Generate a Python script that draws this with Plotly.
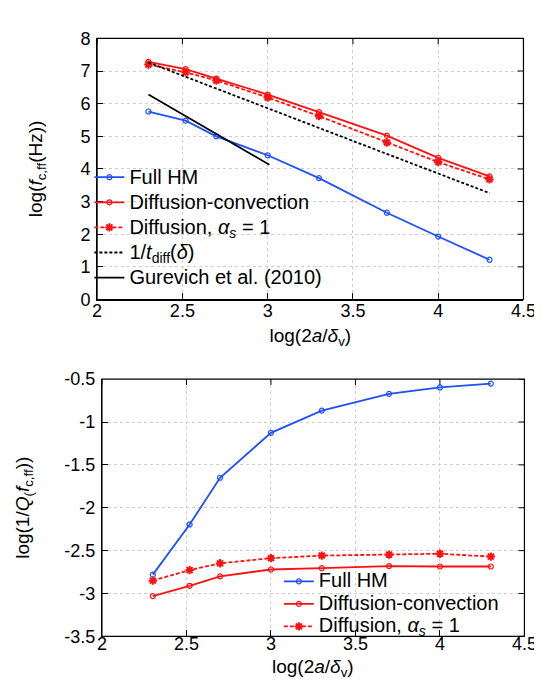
import plotly.graph_objects as go

# ---------------- data ----------------
x_vals = [2.301, 2.519, 2.699, 3.0, 3.301, 3.699, 4.0, 4.301]

# top panel: log(f_c,ff)
f_full_hm = [5.76, 5.48, 5.00, 4.42, 3.72, 2.66, 1.93, 1.22]
f_diff_conv = [7.28, 7.06, 6.77, 6.28, 5.74, 5.02, 4.34, 3.77]
f_diffusion = [7.20, 6.96, 6.71, 6.19, 5.62, 4.81, 4.21, 3.68]
f_tdiff = [7.26, 6.82, 6.46, 5.86, 5.26, 4.46, 3.86, 3.26]
gurevich_x = [2.301, 3.01]
gurevich_y = [6.28, 4.13]

# bottom panel: log(1/Q)
q_full_hm = [-2.78, -2.195, -1.65, -1.126, -0.867, -0.672, -0.597, -0.552]
q_diff_conv = [-3.03, -2.91, -2.80, -2.72, -2.705, -2.68, -2.685, -2.685]
q_diffusion = [-2.85, -2.727, -2.648, -2.588, -2.558, -2.547, -2.536, -2.57]

names_top = ["Full HM", "Diffusion-convection", "Diffusion, <i>α<sub>s</sub></i> = 1",
             "1/<i>t</i><sub>diff</sub>(<i>δ</i>)", "Gurevich et al. (2010)"]
names_bottom = ["Full HM", "Diffusion-convection", "Diffusion, <i>α<sub>s</sub></i> = 1"]

x_ticks = [2, 2.5, 3, 3.5, 4, 4.5]
x_ticklabels = ["2", "2.5", "3", "3.5", "4", "4.5"]
y1_ticks = [0, 1, 2, 3, 4, 5, 6, 7, 8]
y1_ticklabels = ["0", "1", "2", "3", "4", "5", "6", "7", "8"]
y2_ticks = [-3.5, -3, -2.5, -2, -1.5, -1, -0.5]
y2_ticklabels = ["-3.5", "-3", "-2.5", "-2", "-1.5", "-1", "-0.5"]

x_title = "log(2<i>a</i>/<i>δ</i><sub>v</sub>)"
y1_title = "log(<i>f</i><sub>c,ff</sub>(Hz))"
y2_title = "log(1/<i>Q</i><sub>(</sub><i>f</i><sub>c,ff</sub>))"

# ---------------- style ----------------
BLUE = "#1f4fff"
RED = "#ff1010"
FONT = "Liberation Sans"
LEG_TEXT = 20

W, H = 542, 684
def px_x(p):
    return p / W
def px_y(p):
    return 1 - p / H

def big(s):
    return '<span style="font-size:%dpx">%s</span>' % (LEG_TEXT, s)

fig = go.Figure()

def add(x, y, name, color, dash, symbol, xa, ya, legend, msize=5, mlw=1.2):
    fig.add_trace(go.Scatter(
        x=x, y=y, name=big(name), mode="lines+markers" if symbol else "lines",
        line=dict(color=color, width=1.8, dash=dash),
        marker=dict(symbol=symbol, size=msize, color=color,
                    line=dict(color=color, width=mlw)) if symbol else None,
        xaxis=xa, yaxis=ya, legend=legend,
    ))

add(x_vals, f_full_hm, names_top[0], BLUE, "solid", "circle-open", "x", "y", "legend")
add(x_vals, f_diff_conv, names_top[1], RED, "solid", "circle-open", "x", "y", "legend")
add(x_vals, f_diffusion, names_top[2], RED, "4px,2px", "asterisk-open", "x", "y", "legend", msize=7, mlw=2)
add(x_vals, f_tdiff, names_top[3], "black", "3px,2px", None, "x", "y", "legend")
add(gurevich_x, gurevich_y, names_top[4], "black", "solid", None, "x", "y", "legend")

add(x_vals, q_full_hm, names_bottom[0], BLUE, "solid", "circle-open", "x2", "y2", "legend2")
add(x_vals, q_diff_conv, names_bottom[1], RED, "solid", "circle-open", "x2", "y2", "legend2")
add(x_vals, q_diffusion, names_bottom[2], RED, "4px,2px", "asterisk-open", "x2", "y2", "legend2", msize=7, mlw=2)

TICKLEN = 6
axis_common = dict(
    showline=True, linecolor="black", linewidth=1.2, mirror=False,
    ticks="inside", ticklen=TICKLEN, tickcolor="black",
    showgrid=True, gridcolor="#cfcfcf", griddash="dot", gridwidth=1,
    zeroline=False, tickfont=dict(family=FONT, size=18, color="black"),
)

# plot areas (px)
T_X0, T_X1, T_Y0, T_Y1 = 87, 528, 21, 290
B_X0, B_X1, B_Y0, B_Y1 = 92, 529, 372, 637

# frame + mirrored ticks (top/right) drawn as shapes
shapes = []
for xa, ya, yt, (x0, x1, y0, y1) in [("x", "y", y1_ticks, (T_X0, T_X1, T_Y0, T_Y1)),
                                     ("x2", "y2", y2_ticks, (B_X0, B_X1, B_Y0, B_Y1))]:
    shapes.append(dict(type="rect", xref=xa + " domain", yref=ya + " domain",
                       x0=0, x1=1, y0=0, y1=1, layer="above",
                       line=dict(color="black", width=1.2)))
    for t in x_ticks:
        shapes.append(dict(type="line", xref=xa, yref=ya + " domain",
                           x0=t, x1=t, y0=1, y1=1 - TICKLEN / (y1 - y0), layer="above",
                           line=dict(color="black", width=1)))
    for t in yt:
        shapes.append(dict(type="line", xref=xa + " domain", yref=ya,
                           x0=1, x1=1 - TICKLEN / (x1 - x0), y0=t, y1=t, layer="above",
                           line=dict(color="black", width=1)))

# white patches behind the legends (hide grid, keep data)
shapes += [
    dict(type="rect", xref="paper", yref="paper", layer="between",
         x0=px_x(T_X0 + 1), x1=px_x(338), y0=px_y(T_Y1 - 1), y1=px_y(161),
         fillcolor="white", line=dict(width=0)),
    dict(type="rect", xref="paper", yref="paper", layer="between",
         x0=px_x(286), x1=px_x(B_X1 - 1), y0=px_y(B_Y1 - 1), y1=px_y(568),
         fillcolor="white", line=dict(width=0)),
]

fig.update_layout(
    width=W, height=H,
    margin=dict(l=0, r=0, t=0, b=0),
    paper_bgcolor="white", plot_bgcolor="white",
    font=dict(family=FONT, size=18, color="black"),
    xaxis=dict(domain=[px_x(T_X0), px_x(T_X1)], range=[2, 4.5], tickvals=x_ticks,
               ticktext=x_ticklabels, anchor="y", ticklabelstandoff=-5,
               title=dict(text=x_title, font=dict(size=19), standoff=8),
               **axis_common),
    yaxis=dict(domain=[px_y(T_Y1), px_y(T_Y0)], range=[0, 8], tickvals=y1_ticks,
               ticktext=y1_ticklabels, anchor="x", ticklabelstandoff=2,
               title=dict(text=y1_title, font=dict(size=19), standoff=32),
               **axis_common),
    xaxis2=dict(domain=[px_x(B_X0), px_x(B_X1)], range=[2, 4.5], tickvals=x_ticks,
                ticktext=x_ticklabels, anchor="y2", ticklabelstandoff=-9,
                **axis_common),
    yaxis2=dict(domain=[px_y(B_Y1), px_y(B_Y0)], range=[-3.5, -0.5], tickvals=y2_ticks,
                ticktext=y2_ticklabels, anchor="x2", ticklabelstandoff=2,
                title=dict(text=y2_title, font=dict(size=19), standoff=29),
                **axis_common),
    legend=dict(x=px_x(79), y=px_y(286), xanchor="left", yanchor="bottom",
                bgcolor="rgba(0,0,0,0)", borderwidth=0, tracegroupgap=0,
                font=dict(family=FONT, size=17), itemwidth=30),
    legend2=dict(x=px_x(275), y=px_y(644), xanchor="left", yanchor="bottom",
                 bgcolor="rgba(0,0,0,0)", borderwidth=0,
                 font=dict(family=FONT, size=15), itemwidth=30),
    showlegend=True,
    shapes=shapes,
    annotations=[dict(text=x_title, xref="paper", yref="paper",
                      x=px_x((B_X0 + B_X1) / 2), y=px_y(670),
                      xanchor="center", yanchor="middle", showarrow=False,
                      font=dict(family=FONT, size=19, color="black"))],
)

fig.write_html("out.html")
